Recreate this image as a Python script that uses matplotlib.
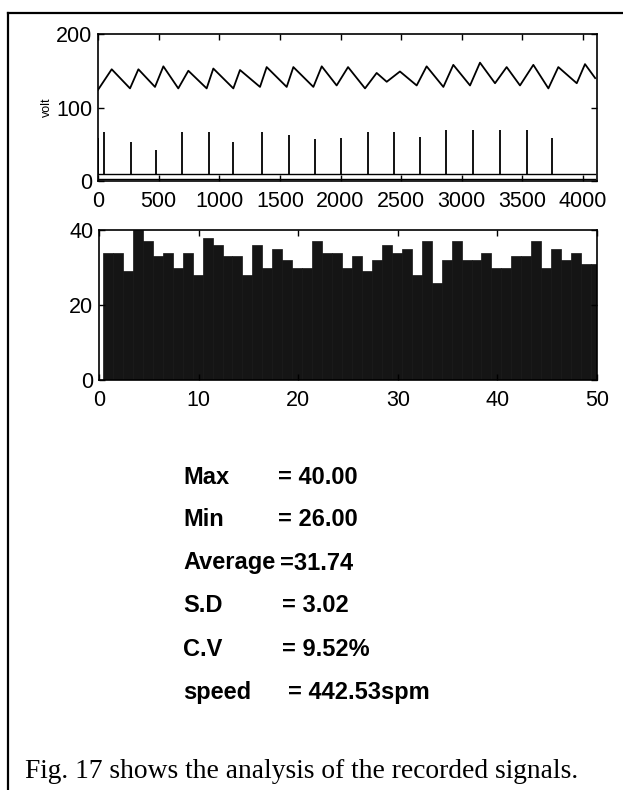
import numpy as np
import matplotlib
matplotlib.use("Agg")
import matplotlib.pyplot as plt
from matplotlib.lines import Line2D

# ---- data ----
# yarn tension wave (vertices: troughs / peaks)
wave_x = [0, 113, 264, 333, 470, 539, 662, 745, 896, 951, 1116, 1171, 1336, 1391,
          1556, 1611, 1776, 1845, 1968, 2062, 2202, 2298, 2381, 2490, 2628, 2710,
          2848, 2930, 3068, 3150, 3274, 3370, 3480, 3590, 3714, 3796, 3948, 4016, 4100]
wave_y = [124, 152, 126, 152, 128, 156, 126, 150, 126, 153, 126, 151, 128, 155,
          128, 155, 128, 156, 130, 155, 126, 147, 135, 149, 130, 156,
          128, 158, 130, 161, 133, 155, 130, 158, 126, 155, 133, 159, 140]

# trigger pulses
spike_x = [3, 52, 270, 476, 690, 918, 1116, 1350, 1573, 1790, 2007, 2224, 2441,
           2656, 2870, 3090, 3315, 3535, 3746]
spike_h = [58, 66, 53, 42, 67, 66, 53, 66, 63, 57, 59, 67, 67, 60, 69, 69, 69, 69, 58]
spike_base = 9
low_level = 3

# tension per cycle (50 cycles)
peaks = [34, 34, 29, 40, 37, 33, 34, 30, 34, 28, 38, 36, 33, 33, 28, 36, 30, 35, 32, 30,
         30, 37, 34, 34, 30, 33, 29, 32, 36, 34, 35, 28, 37, 26, 32, 37, 32, 32, 34, 30,
         30, 33, 33, 37, 30, 35, 32, 34, 31, 31]

stat_names = ["Max", "Min", "Average", "S.D", "C.V", "speed"]
stat_vals = ["= 40.00", "= 26.00", "=31.74", "= 3.02", "= 9.52%", "= 442.53spm"]
stat_val_x = [278, 278, 280, 282, 282, 288]

caption = "Fig. 17 shows the analysis of the recorded signals."

plt.rcParams['font.family'] = ['Liberation Sans', 'DejaVu Sans']

fig = plt.figure(figsize=(6.23, 7.9), dpi=100)
W, H = 623.0, 790.0


def px_axes(l, t, r, b):
    return fig.add_axes([l / W, 1 - b / H, (r - l) / W, (b - t) / H])


# ---- top: raw signals ----
ax1 = px_axes(98, 34, 597, 181)
ax1.plot(wave_x, wave_y, color='k', lw=1.3)
ax1.vlines(spike_x, spike_base, spike_h, color='k', lw=1.3)
ax1.plot([0, 4100], [spike_base, spike_base], color='k', lw=1.0)
ax1.plot([0, 4100], [low_level, low_level], color='k', lw=1.0)
ax1.set_xlim(0, 4115)
ax1.set_ylim(0, 200)
ax1.set_xticks(np.arange(0, 4001, 500))
ax1.set_yticks([0, 100, 200])
ax1.set_ylabel('volt', fontsize=9, labelpad=2)

# ---- bottom: per-cycle peaks ----
ax2 = px_axes(99, 230, 597, 380)
pos = np.arange(1, len(peaks) + 1) - 0.1
ax2.bar(pos, peaks, width=1.0, color='#151515', edgecolor='#151515', lw=0.5)
ax2.set_xlim(0, 50)
ax2.set_ylim(0, 40)
ax2.set_xticks(np.arange(0, 51, 10))
ax2.set_yticks([0, 20, 40])

for ax in (ax1, ax2):
    ax.tick_params(direction='in', top=True, right=True, length=4, width=1,
                   labelsize=15.5)
    ax.tick_params(axis='x', pad=7)
    ax.tick_params(axis='y', pad=4)
    for s in ax.spines.values():
        s.set_linewidth(1.2)

# ---- statistics text ----
y0 = 477
for i, (n, v) in enumerate(zip(stat_names, stat_vals)):
    y = 1 - (y0 + 43 * i) / H
    fig.text(183 / W, y, n, fontsize=17, fontweight='bold', va='center', ha='left')
    fig.text(stat_val_x[i] / W, y, v, fontsize=17, fontweight='bold',
             va='center', ha='left')

fig.text(25 / W, 1 - 771 / H, caption, fontsize=19.8,
         family=['Liberation Serif', 'DejaVu Serif'], va='center', ha='left')

# page frame of the scan
fig.add_artist(Line2D([8 / W, 1.0], [1 - 13 / H, 1 - 13 / H], color='k', lw=1.6,
                      transform=fig.transFigure))
fig.add_artist(Line2D([8 / W, 8 / W], [1 - 13 / H, 0.0], color='k', lw=1.6,
                      transform=fig.transFigure))

fig.savefig('out.png', dpi=100)
